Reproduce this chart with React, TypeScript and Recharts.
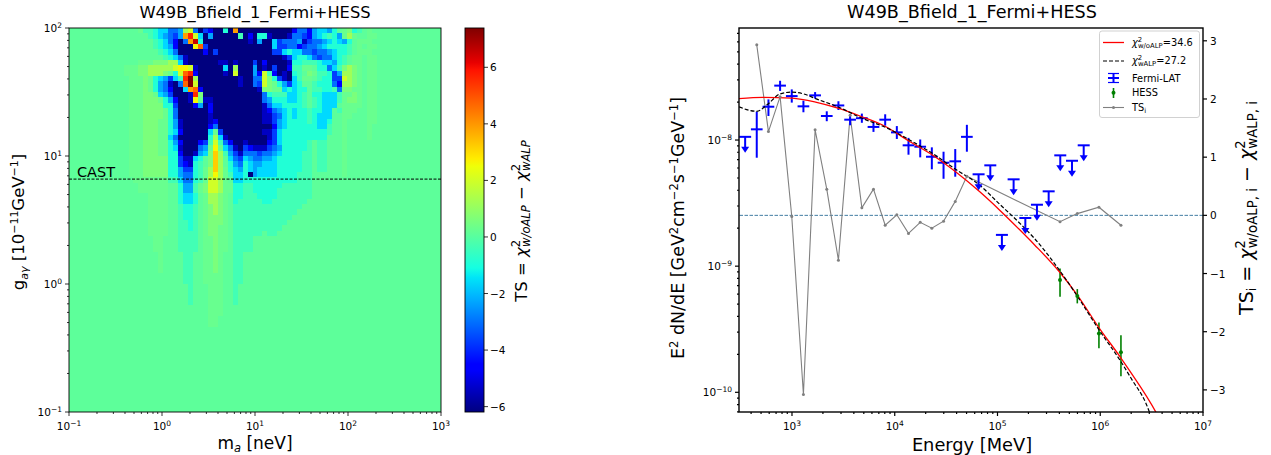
import React from "react";
import {
  Bar,
  BarChart,
  ComposedChart,
  ErrorBar,
  Line,
  ReferenceLine,
  Scatter,
  ScatterChart,
  XAxis,
  YAxis,
} from "recharts";

const FONT = "'DejaVu Sans', sans-serif";

// heatmap, one string per row from the top (g = 100) down
const levelChars = "abcdefghijklmnopqrstu";
const levelValues = [-6.2, -5.4, -4.5, -3.7, -3, -2.3, -1.6, -0.9, -0.35, 0.1, 0.28, 0.6, 1.2, 2, 2.6, 3.2, 3.9, 4.7, 5.6, 6.5, 7.3];
const heatRows = [
  "jjjjj jjjjj jjjjk iihgg eefmn eadca ahaqa aaaaa aaaaa ceecf ggfhj klhij kj",
  "jjjjj jjjjj jjjjj jihgf edfqs ngafa aaaai acahh baaab eedcf ghihf kmkjj kk",
  "jjjjj jjjjj jjjjj jjihg ecaeq thaaa aaaaa abafa agdee efbde efghg fhjkk kj",
  "jjjjj jjjjj jjjjj jjihg fcaaa ordaa aaaaa aaaaa agdde ecdee fghhh hijkj kk",
  "jjjjj jjjjj jjjjj jjjih geaaa aacad aaaaa aaaaa addgh ggeed eefgh hijkk kj",
  "jjjjj jjjjj jjjjj jjjji hgeba aaaaa aaaaa aaaaa aaabd ghhge deegh ijkkj kk",
  "jjjjj jjjjj jjjjk kklll mmgba aaaaa bbaba aadac aaaab hhiii hggfh ijkkj kk",
  "jjjjj jjjjj jkkkl lmmmm mnoon baaaa agama aafab adaac iikkj hhegi lmlkj kk",
  "jjjjj jjjjj jkkkl lmmml khnrs caaaa abana aafcn icaba hijlk iihdf mmlkj kk",
  "jjjjj jjjjj jjkkk lkhgf dgisu maaaa aaaab aaeen lhdba gikkj ihhdd nmlkj kk",
  "jjjjj jjjjj jjkkk lkhfe baeru naaaa aaaab aaedn lkhfd ghjji hhhec mmlkj kk",
  "jjjjj jjjjj jjkkk lkhfe caagq rcaaa aaaaa aaabl lkkgh ghhji ihhie llkkj kk",
  "jjjjj jjjjj jjkkk llkgf daaab slaaa aaaaa aaaae hiiig ghijh hgggi kklkj kk",
  "jjjjj jjjjj jjkkk lllkh fcaab okbba aaaaa aaaae fhhhg ghiji hgggi kllkj kk",
  "jjjjj jjjjj jjkkk llllh hdaaa cfaca aaaaa aaaab egghh hhiji hgggj kkkkj kk",
  "jjjjj jjjjj jjkkk llllk heaaa aaaca aaaaa aaaab cefgh ghhih hggji kkkjj kk",
  "jjjjj jjjjj jjkkk llllk heaaa aaaba aaaaa aaaab bdegh ghhih gggjj kkjjj kk",
  "jjjjj jjjjj jjkkk lllkk hfbaa aaabc aaaaa aaaab bdfgh hhhih gghjj kjjjj kk",
  "jjjjj jjjjj jjkkk lllkk hfbaa aaace aaaaa aaaaa acfgh hhhhh ggijj kjjjj k",
  "jjjjj jjjjj jjkkk lllkk hgcaa aaagk daaaa aaaab bdghh hhhhh hhijj kjjjj k",
  "jjjjj jjjjj jjkkk lllkk geaaa aaahm gbaaa aaaaa bdghh hhhhh hhjjj kjjjj k",
  "jjjjj jjjjj jjkkk lllkk hfcaa acdin iecaa baaaa cdghh hhhij iijjj kjjj",
  "jjjjj jjjjj jjkkk lllkk hgbaa aefko kgeba dcbbb defhh hhhij iijjj kjjj",
  "jjjjj jjjjj jjkkk lllkk hhcaa bfglp mifdb eeede efghh hhiij iijjj kjjj",
  "jjjjj jjjjj jjkkk lllll hhdbb ghjlp mjged gfeef fghhh hhiij iijjj kjjj",
  "jjjjj jjjjj jjkkk lllll hhdcb hijlp mjhfe hgffg gghhh hhiij iijjj kjjj",
  "jjjjj jjjjj jjkkk lllll hhfdd hikmp mkhgf hgfgg gghhh hhiij iijjj kjjj",
  "jjjjj jjjjj jjkkk lllll hhfee hikmo mkigg hafgg gghhh hiiij jjjjj kjjj",
  "jjjjj jjjjj jjjkk kkkkk iigee hiknn mkjgg hhhhh hhhhh hiiij jjjjj jjjj",
  "jjjjj jjjjj jjjjk kkkkk jjhff iklnn mkkhh iihhh hhhii iiiij jjjjj",
  "jjjjj jjjjj jjjjk kkkkk jjhff iklnn mkkhh iihhh hhiii iiiij jjjjj",
  "jjjjj jjjjj jjjjj jkkkk jjhgg hjkmm lkjhh iiihh hhiii iiiij jjjjj",
  "jjjjj jjjjj jjjjj jkkkk jjhgg hjkmm lkjhi iiiih hiiii iiijj jjjjj",
  "jjjjj jjjjj jjjjj jkkkk jjihh ijklm lkjii iiiii iiiii iijjj",
  "jjjjj jjjjj jjjjj jkkkk jjihh ijklm lkjii iiiii iiiii ijjjj",
  "jjjjj jjjjj jjjjj jkkkk jjihh ijkll lkjii iiiii iiiii jjjjj",
  "jjjjj jjjjj jjjjj jkkkk jjiih ijkll lkjii iiiii iiiij jjjjj",
  "jjjjj jjjjj jjjjj jkkkk jjiih ijkll kkjii iiiii iiijj jjjjj",
  "jjjjj jjjjj jjjjj jkkkk jjiii ijkll kkjii iiiij iijjj",
  "jjjjj jjjjj jjjjj jjkkj jjiii ijkkl kkjii iijjj jjjj",
  "jjjjj jjjjj jjjjj jjkkj jjiii ijkkl kkjii iijjj jjjj",
  "jjjjj jjjjj jjjjj jjkkj jjiii ijkkl kkjii iijjj jjjj",
  "jjjjj jjjjj jjjjj jjjkj jjjii jjkkl kjjii jjjj",
  "jjjjj jjjjj jjjjj jjjkj jjjii jjkkl kjjii jjjj",
  "jjjjj jjjjj jjjjj jjjkj jjjii jjkkl kjjii jjjj",
  "jjjjj jjjjj jjjjj jjjkj jjjii jjkkl kjjii jjjj",
  "jjjjj jjjjj jjjjj jjjjj jjjii jjkkk kjjii jjjj",
  "jjjjj jjjjj jjjjj jjjjj jjjii jjkkk kjjii jjjj",
  "jjjjj jjjjj jjjjj jjjjj jjjji jjjkk kjjij",
  "jjjjj jjjjj jjjjj jjjjj jjjji jjjkk kjjij",
  "jjjjj jjjjj jjjjj jjjjj jjjji jjjkk kjjij",
  "jjjjj jjjjj jjjjj jjjjj jjjji jjjkk kjjij",
  "jjjjj jjjjj jjjjj jjjjj jjjjj jjjkk kjjjj",
  "jjjjj jjjjj jjjjj jjjjj jjjjj jjjkk kjjjj",
  "jjjjj jjjjj jjjjj jjjjj jjjjj jjjkk jjjjj",
  "jjjjj jjjjj jjjjj jjjjj jjjjj jjjkk jjjjj",
];
const HEAT_COLS = 75;
const HEAT_ROWS = 72;

const castLine = [{ mass: 0.1, coupling: 6.6 }, { mass: 1000, coupling: 6.6 }];
const colorMin = -6.19;
const colorMax = 7.39;
const colorTicks = [-6, -4, -2, 0, 2, 4, 6];

// Fermi-LAT detections
const fermiEnergy = [454, 590, 766, 995, 1292, 1679, 2180, 2831, 3678, 4786, 6209, 8072, 10480, 13610, 17700, 22960, 29850, 38800, 50350];
const fermiFlux = [1.216e-8, 1.837e-8, 2.7e-8, 2.23e-8, 1.85e-8, 2.26e-8, 1.55e-8, 1.88e-8, 1.45e-8, 1.49e-8, 1.27e-8, 1.45e-8, 1.15e-8, 9.08e-9, 8.85e-9, 7.37e-9, 6.61e-9, 6.78e-9, 1.06e-8];
const fermiHigh = [1.676e-8, 2.1e-8, 2.95e-8, 2.52e-8, 2.05e-8, 2.4e-8, 1.69e-8, 2.03e-8, 1.61e-8, 1.62e-8, 1.41e-8, 1.6e-8, 1.29e-8, 1.04e-8, 1.01e-8, 8.75e-9, 8.08e-9, 8.48e-9, 1.32e-8];
const fermiLow = [7.24e-9, 1.55e-8, 2.45e-8, 1.98e-8, 1.66e-8, 2.13e-8, 1.41e-8, 1.73e-8, 1.31e-8, 1.37e-8, 1.16e-8, 1.3e-8, 1.02e-8, 7.65e-9, 7.29e-9, 5.86e-9, 4.93e-9, 5.12e-9, 8.08e-9];
const binRatio = 1.14;

// Fermi-LAT upper limits
const limitEnergy = [350, 65460, 85110, 110400, 143500, 186600, 242100, 314800, 408300, 530900, 690200];
const limitFlux = [1.06e-8, 5.35e-9, 6.3e-9, 1.77e-9, 4.88e-9, 2.41e-9, 3.07e-9, 3.92e-9, 7.56e-9, 6.85e-9, 9.08e-9];

// HESS
const hessEnergy = [406000, 598000, 971000, 1590000];
const hessFlux = [7.76e-10, 5.79e-10, 2.93e-10, 2.08e-10];
const hessHigh = [9.6e-10, 6.58e-10, 3.58e-10, 2.83e-10];
const hessLow = [5.72e-10, 5.07e-10, 2.23e-10, 1.34e-10];

// model curves
const noAlpEnergy = [305, 523, 1000, 1698, 2857, 4786, 8128, 13680, 23230, 39080, 66830, 104500, 163700, 228600, 400000, 598000, 977000, 1590000, 1914000, 3476000, 4677000];
const noAlpFlux = [2.13e-8, 2.18e-8, 2.15e-8, 2e-8, 1.78e-8, 1.53e-8, 1.28e-8, 9.82e-9, 7.6e-9, 5.6e-9, 3.9e-9, 2.79e-9, 1.95e-9, 1.48e-9, 9.03e-10, 5.9e-10, 3.23e-10, 1.87e-10, 1.5e-10, 6.97e-11, 4.3e-11];
const alpEnergy = [305, 454, 585, 764, 1000, 1300, 1698, 2857, 4786, 8128, 13680, 23230, 39080, 66830, 104500, 163700, 228600, 400000, 598000, 977000, 1590000, 2046000, 2780000, 3342000];
const alpFlux = [1.83e-8, 1.69e-8, 1.93e-8, 2.32e-8, 2.4e-8, 2.32e-8, 2.13e-8, 1.82e-8, 1.49e-8, 1.26e-8, 1.01e-8, 7.84e-9, 5.86e-9, 4.4e-9, 3.11e-9, 2.2e-9, 1.66e-9, 9.31e-10, 5.79e-10, 3.11e-10, 1.75e-10, 1.25e-10, 8.2e-11, 5.5e-11];

// per-bin test statistic
const tsEnergy = [454, 590, 766, 995, 1292, 1679, 2180, 2831, 3678, 4786, 6209, 8072, 10480, 13610, 17700, 22960, 29850, 38800, 50350, 406000, 598000, 971000, 1590000];
const tsValues = [2.93, 1.44, 2.04, -0.02, -3.08, 1.47, 0.45, -0.77, 1.72, 0.13, 0.45, -0.17, 0.01, -0.31, -0.12, -0.22, -0.1, 0.24, 0.67, -0.11, 0.03, 0.14, -0.17];
const tsTicks = [-3, -2, -1, 0, 1, 2, 3];

const decadeTicks = (from: number, to: number) => {
  const out: number[] = [];
  for (let e = from; e < to; e++) for (let m = 1; m < 10; m++) out.push(Number(`${m}e${e}`));
  out.push(Number(`1e${to}`));
  return out;
};
const massTicks = decadeTicks(-1, 3);
const couplingTicks = decadeTicks(-1, 2);
const energyTicks = decadeTicks(2, 7).filter((v) => v >= 305);
const fluxTicks = decadeTicks(-11, -7).filter((v) => v >= 6.98e-11 && v <= 7.73e-8);

const heatCells = Array.from({ length: HEAT_ROWS }).flatMap((_, r) => {
  const chars = (heatRows[r] ?? "").replace(/ /g, "").padEnd(HEAT_COLS, "j");
  return Array.from(chars).map((ch, c) => ({
    mass: Math.pow(10, -1 + (4 * (c + 0.5)) / HEAT_COLS),
    coupling: Math.pow(10, 2 - (3 * (r + 0.5)) / HEAT_ROWS),
    value: levelValues[levelChars.indexOf(ch)],
  }));
});

const fermiData = fermiEnergy.map((x, i) => ({
  x,
  y: fermiFlux[i],
  ex: [x - x / binRatio, x * binRatio - x],
  ey: [fermiFlux[i] - fermiLow[i], fermiHigh[i] - fermiFlux[i]],
}));
const limitData = limitEnergy.map((x, i) => ({ x, y: limitFlux[i] }));
const hessData = hessEnergy.map((x, i) => ({
  x,
  y: hessFlux[i],
  ey: [hessFlux[i] - hessLow[i], hessHigh[i] - hessFlux[i]],
}));
const noAlpData = noAlpEnergy.map((x, i) => ({ x, y: noAlpFlux[i] }));
const alpData = alpEnergy.map((x, i) => ({ x, y: alpFlux[i] }));
const tsData = tsEnergy.map((x, i) => ({ x, ts: tsValues[i] }));

function jet(t: number) {
  const clamp = (v: number) => Math.max(0, Math.min(1, v));
  const r = t < 0.89 ? clamp((t - 0.35) / 0.31) : 1 - (0.5 * (t - 0.89)) / 0.11;
  const g = t < 0.64 ? clamp((t - 0.125) / 0.25) : clamp((0.91 - t) / 0.27);
  const b = t < 0.11 ? 0.5 + (0.5 * t) / 0.11 : clamp((0.65 - t) / 0.31);
  const hex = (v: number) => Math.round(v * 255).toString(16).padStart(2, "0");
  return `#${hex(r)}${hex(g)}${hex(b)}`;
}
const valueColor = (v: number) => jet((v - colorMin) / (colorMax - colorMin));
const jetStops = [0, 0.05, 0.11, 0.125, 0.2, 0.3, 0.35, 0.375, 0.45, 0.55, 0.64, 0.66, 0.75, 0.89, 0.91, 0.95, 1];

const HEAT_W = 372 / HEAT_COLS;
const HEAT_H = 384 / HEAT_ROWS;

function HeatCell(props: any) {
  const { cx, cy, payload } = props;
  return (
    <rect
      x={cx - HEAT_W / 2}
      y={cy - HEAT_H / 2}
      width={HEAT_W + 0.5}
      height={HEAT_H + 0.5}
      fill={valueColor(payload.value)}
      shapeRendering="crispEdges"
    />
  );
}

function isDecade(v: number) {
  const l = Math.log10(v);
  return Math.abs(l - Math.round(l)) < 1e-6;
}

function PowerLabel({ x, y, value, anchor }: { x: number; y: number; value: number; anchor: "middle" | "end" }) {
  const exp = Math.round(Math.log10(value));
  return (
    <text x={x} y={y} textAnchor={anchor} fontSize={10.5} fontFamily={FONT} fill="#000">
      10
      <tspan dy={-4.5} fontSize={7.5}>{exp < 0 ? `\u2212${-exp}` : exp}</tspan>
    </text>
  );
}

const xLogTick = (sw: number) => (props: any) => {
  const { x, y, payload } = props;
  const major = isDecade(payload.value);
  return (
    <g>
      <line x1={x} x2={x} y1={y} y2={y + (major ? 4 : 2)} stroke="#000" strokeWidth={sw} />
      {major && <PowerLabel x={x} y={y + 18} value={payload.value} anchor="middle" />}
    </g>
  );
};

const yLogTick = (sw: number) => (props: any) => {
  const { x, y, payload } = props;
  const major = isDecade(payload.value);
  return (
    <g>
      <line x1={x} x2={x - (major ? 4 : 2)} y1={y} y2={y} stroke="#000" strokeWidth={sw} />
      {major && <PowerLabel x={x - 7} y={y + 4} value={payload.value} anchor="end" />}
    </g>
  );
};

const rightTick = (sw: number, gap: number) => (props: any) => {
  const { x, y, payload } = props;
  return (
    <g>
      <line x1={x} x2={x + 4} y1={y} y2={y} stroke="#000" strokeWidth={sw} />
      <text x={x + gap} y={y + 4} fontSize={10.5} fontFamily={FONT} fill="#000">
        {String(payload.value).replace("-", "\u2212")}
      </text>
    </g>
  );
};

function UpperLimit(props: any) {
  const { cx, cy } = props;
  return (
    <g>
      <line x1={cx - 6} x2={cx + 6} y1={cy} y2={cy} stroke="#0000ff" strokeWidth={2} />
      <line x1={cx} x2={cx} y1={cy} y2={cy + 11} stroke="#0000ff" strokeWidth={2} />
      <path d={`M${cx - 4},${cy + 10} L${cx + 4},${cy + 10} L${cx},${cy + 16} Z`} fill="#0000ff" />
    </g>
  );
}

const NoMark = () => <g />;
const HessMark = (props: any) => <circle cx={props.cx} cy={props.cy} r={2} fill="#008000" />;

function HeatPanel() {
  return (
    <ScatterChart
      width={470}
      height={455}
      margin={{ left: 68, top: 28, right: 29, bottom: 42 }}
      style={{ position: "absolute", left: 0, top: 0 }}
    >
      <XAxis
        dataKey="mass"
        type="number"
        scale="log"
        domain={[0.1, 1000]}
        allowDataOverflow
        ticks={massTicks}
        interval={0}
        height={1}
        axisLine={false}
        tickLine={false}
        tickSize={0}
        tickMargin={0}
        tick={xLogTick(0.8)}
      />
      <YAxis
        dataKey="coupling"
        type="number"
        scale="log"
        domain={[0.1, 100]}
        allowDataOverflow
        ticks={couplingTicks}
        interval={0}
        width={1}
        axisLine={false}
        tickLine={false}
        tickSize={0}
        tickMargin={0}
        tick={yLogTick(0.8)}
      />
      <Scatter data={heatCells} dataKey="coupling" shape={HeatCell} isAnimationActive={false} />
      <Scatter
        data={castLine}
        dataKey="coupling"
        shape={NoMark}
        line={{ stroke: "#000", strokeWidth: 1, strokeDasharray: "3 1.5" }}
        isAnimationActive={false}
      />
    </ScatterChart>
  );
}

function ColorBar() {
  return (
    <BarChart
      width={50}
      height={455}
      data={[{ name: "TS", range: [colorMin, colorMax] }]}
      margin={{ left: 0, top: 28, right: 30, bottom: 43 }}
      barCategoryGap={0}
      style={{ position: "absolute", left: 465, top: 0 }}
    >
      <defs>
        <linearGradient id="jetBar" x1="0" y1="1" x2="0" y2="0">
          {jetStops.map((t) => (
            <stop key={t} offset={t} stopColor={jet(t)} />
          ))}
        </linearGradient>
      </defs>
      <XAxis dataKey="name" hide />
      <YAxis
        orientation="right"
        type="number"
        domain={[colorMin, colorMax]}
        allowDataOverflow
        ticks={colorTicks}
        interval={0}
        width={1}
        axisLine={false}
        tickLine={false}
        tickSize={0}
        tickMargin={0}
        tick={rightTick(0.8, 6)}
      />
      <Bar dataKey="range" fill="url(#jetBar)" isAnimationActive={false} />
    </BarChart>
  );
}

function SedPanel() {
  return (
    <ComposedChart
      width={600}
      height={455}
      margin={{ left: 78, top: 28, right: 56, bottom: 42 }}
      style={{ position: "absolute", left: 660, top: 0 }}
    >
      <XAxis
        dataKey="x"
        type="number"
        scale="log"
        domain={[305, 1e7]}
        allowDataOverflow
        ticks={energyTicks}
        interval={0}
        height={1}
        axisLine={false}
        tickLine={false}
        tickSize={0}
        tickMargin={0}
        tick={xLogTick(1.2)}
      />
      <YAxis
        yAxisId="flux"
        type="number"
        scale="log"
        domain={[6.98e-11, 7.73e-8]}
        allowDataOverflow
        ticks={fluxTicks}
        interval={0}
        width={1}
        axisLine={false}
        tickLine={false}
        tickSize={0}
        tickMargin={0}
        tick={yLogTick(1.2)}
      />
      <YAxis
        yAxisId="ts"
        orientation="right"
        type="number"
        domain={[-3.38, 3.22]}
        allowDataOverflow
        ticks={tsTicks}
        interval={0}
        width={1}
        axisLine={false}
        tickLine={false}
        tickSize={0}
        tickMargin={0}
        tick={rightTick(1.2, 7)}
      />
      <ReferenceLine yAxisId="ts" y={0} stroke="#2b6d97" strokeWidth={0.9} strokeDasharray="3.5 1.5" />
      <Line
        yAxisId="ts"
        data={tsData}
        dataKey="ts"
        stroke="#808080"
        strokeWidth={1.1}
        dot={{ r: 1.5, fill: "#808080", stroke: "#808080", strokeWidth: 0 }}
        isAnimationActive={false}
      />
      <Scatter yAxisId="flux" data={fermiData} dataKey="y" shape={NoMark} isAnimationActive={false}>
        <ErrorBar dataKey="ey" direction="y" width={0} stroke="#0000ff" strokeWidth={2} isAnimationActive={false} />
        <ErrorBar dataKey="ex" direction="x" width={0} stroke="#0000ff" strokeWidth={2} isAnimationActive={false} />
      </Scatter>
      <Scatter yAxisId="flux" data={limitData} dataKey="y" shape={UpperLimit} isAnimationActive={false} />
      <Scatter yAxisId="flux" data={hessData} dataKey="y" shape={HessMark} isAnimationActive={false}>
        <ErrorBar dataKey="ey" direction="y" width={0} stroke="#008000" strokeWidth={1.6} isAnimationActive={false} />
      </Scatter>
      <Line yAxisId="flux" data={noAlpData} dataKey="y" type="monotone" stroke="#ff0000" strokeWidth={1.3} dot={false} isAnimationActive={false} />
      <Line yAxisId="flux" data={alpData} dataKey="y" type="monotone" stroke="#000" strokeWidth={1.2} strokeDasharray="4 2" dot={false} isAnimationActive={false} />
    </ComposedChart>
  );
}

function Chi({ sub, size, tail, subStyle = "italic" }: { sub: string; size: number; tail?: string; subStyle?: string }) {
  const small = size * 0.7;
  return (
    <>
      <tspan fontStyle="italic">{"\u03c7"}</tspan>
      <tspan dy={-size * 0.4} fontSize={small}>2</tspan>
      <tspan dy={size * 0.6} dx={-small * 0.62} fontSize={small} fontStyle={subStyle}>{sub}</tspan>
      <tspan dy={-size * 0.2} fontStyle="normal">{tail ?? ""}</tspan>
    </>
  );
}

function Labels() {
  return (
    <svg
      width={1271}
      height={455}
      style={{ position: "absolute", left: 0, top: 0, pointerEvents: "none" }}
      fontFamily={FONT}
      fill="#000"
    >
      <rect x={69} y={28} width={372} height={384} fill="none" stroke="#000" strokeWidth={0.9} />
      <rect x={465} y={28} width={19} height={384} fill="none" stroke="#000" strokeWidth={0.9} />
      <rect x={739} y={28} width={464} height={384} fill="none" stroke="#000" strokeWidth={1.4} />

      <text x={255} y={18} textAnchor="middle" fontSize={16.3}>W49B_Bfield_1_Fermi+HESS</text>
      <text x={972} y={18} textAnchor="middle" fontSize={17.6}>W49B_Bfield_1_Fermi+HESS</text>
      <text x={77} y={177} fontSize={14.5}>CAST</text>

      <text x={255} y={449} textAnchor="middle" fontSize={17}>
        m<tspan dy={3} fontSize={11.5} fontStyle="italic">a</tspan>
        <tspan dy={-3}> [neV]</tspan>
      </text>
      <text transform="translate(24,222) rotate(-90)" textAnchor="middle" fontSize={16.5}>
        g<tspan dy={3.5} fontSize={11} fontStyle="italic">a{"\u03b3"}</tspan>
        <tspan dy={-3.5}> [10</tspan>
        <tspan dy={-6} fontSize={11}>{"\u2212"}11</tspan>
        <tspan dy={6}>GeV</tspan>
        <tspan dy={-6} fontSize={11}>{"\u2212"}1</tspan>
        <tspan dy={6}>]</tspan>
      </text>
      <text transform="translate(527,221) rotate(-90)" textAnchor="middle" fontSize={16.5}>
        TS = <Chi sub="w/oALP" size={16.5} tail={" \u2212 "} />
        <Chi sub="wALP" size={16.5} />
      </text>

      <text x={972} y={451} textAnchor="middle" fontSize={17.8}>Energy [MeV]</text>
      <text transform="translate(684,228) rotate(-90)" textAnchor="middle" fontSize={17.5}>
        E<tspan dy={-6} fontSize={11.5}>2</tspan>
        <tspan dy={6}> dN/dE [GeV</tspan>
        <tspan dy={-6} fontSize={11.5}>2</tspan>
        <tspan dy={6}>cm</tspan>
        <tspan dy={-6} fontSize={11.5}>{"\u2212"}2</tspan>
        <tspan dy={6}>s</tspan>
        <tspan dy={-6} fontSize={11.5}>{"\u2212"}1</tspan>
        <tspan dy={6}>GeV</tspan>
        <tspan dy={-6} fontSize={11.5}>{"\u2212"}1</tspan>
        <tspan dy={6}>]</tspan>
      </text>
      <text transform="translate(1253,208) rotate(-90)" textAnchor="middle" fontSize={19}>
        TS<tspan dy={3} fontSize={12.5}>i</tspan>
        <tspan dy={-3}> = </tspan>
        <Chi sub="w/oALP, i" size={19} tail={" \u2212 "} subStyle="normal" />
        <Chi sub="wALP, i" size={19} subStyle="normal" />
      </text>

      <rect x={1099.5} y={31} width={100} height={86.5} rx={2.5} fill="#fff" fillOpacity={0.85} stroke="#ccc" strokeWidth={0.9} />
      <line x1={1103} x2={1124} y1={42.5} y2={42.5} stroke="#ff0000" strokeWidth={1.3} />
      <line x1={1103} x2={1124} y1={61} y2={61} stroke="#000" strokeWidth={1.2} strokeDasharray="4 2" />
      <g stroke="#0000ff" strokeWidth={2}>
        <line x1={1108} x2={1119} y1={78} y2={78} />
        <line x1={1113.5} x2={1113.5} y1={73} y2={83} />
        <line x1={1108} x2={1119} y1={73.5} y2={73.5} strokeWidth={1.2} />
        <line x1={1108} x2={1119} y1={82.5} y2={82.5} strokeWidth={1.2} />
      </g>
      <line x1={1113.5} x2={1113.5} y1={88} y2={98} stroke="#008000" strokeWidth={1.6} />
      <circle cx={1113.5} cy={92.7} r={2} fill="#008000" />
      <line x1={1103} x2={1124} y1={107.5} y2={107.5} stroke="#808080" strokeWidth={1.1} />
      <circle cx={1113.5} cy={107.5} r={1.5} fill="#808080" />
      <g fontSize={9.8}>
        <text x={1132} y={46}><Chi sub="w/oALP" size={9.8} tail="=34.6" subStyle="normal" /></text>
        <text x={1132} y={64}><Chi sub="wALP" size={9.8} tail="=27.2" subStyle="normal" /></text>
        <text x={1132} y={81.5}>Fermi-LAT</text>
        <text x={1132} y={96}>HESS</text>
        <text x={1132} y={111}>TS<tspan dy={2} fontSize={7}>i</tspan></text>
      </g>
    </svg>
  );
}

export default function App() {
  return (
    <div style={{ position: "absolute", left: 0, top: 0, width: 1271, height: 455, overflow: "hidden", background: "#fff", fontFamily: FONT }}>
      <HeatPanel />
      <ColorBar />
      <SedPanel />
      <Labels />
    </div>
  );
}
